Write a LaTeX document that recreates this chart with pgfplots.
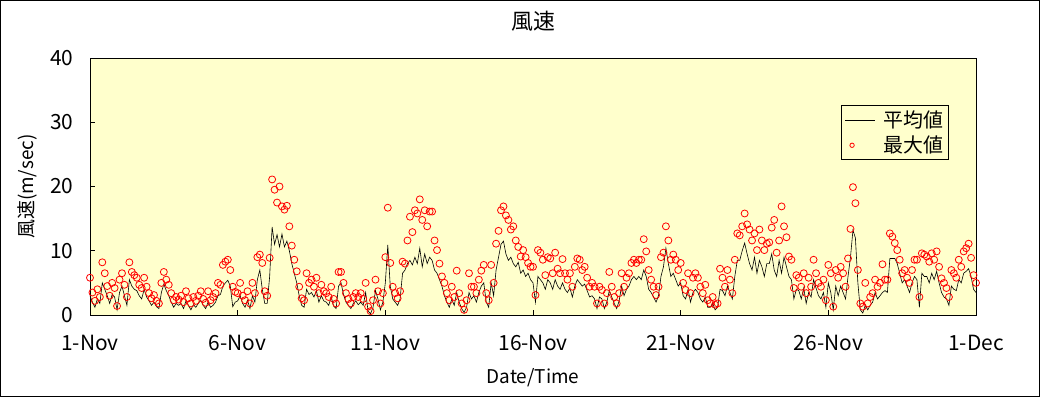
\documentclass[border=0pt]{standalone}
\usepackage{pgfplots}
\pgfplotsset{compat=1.18}
\usepackage{pgfplotstable}
\usepackage{fontspec}
\setmainfont{Noto Sans CJK JP}
\definecolor{bgy}{HTML}{FFFFCC}
\newcommand\tkfont{\fontsize{21}{24}\selectfont}
\pgfplotstableread[row sep=\\]{
m M\\
3.0 5.8\\ 2.0 3.5\\ 1.2 2.2\\ 2.5 4.0\\ 1.8 2.8\\ 5.0 8.2\\ 4.0 6.5\\ 3.0 4.5\\ 1.8 3.0\\ 3.2 5.0\\ 2.8 4.2\\ 0.8 1.4\\
3.5 5.5\\ 4.5 6.5\\ 3.0 4.7\\ 1.5 2.8\\ 5.5 8.2\\ 4.5 6.7\\ 4.0 6.2\\ 3.8 5.8\\ 3.0 4.7\\ 2.5 4.2\\ 4.0 5.8\\ 2.8 4.4\\
2.2 3.4\\ 1.5 2.6\\ 2.0 3.1\\ 1.3 2.2\\ 1.0 1.8\\ 3.5 5.0\\ 4.8 6.7\\ 3.8 5.5\\ 3.0 4.7\\ 2.0 3.4\\ 1.2 2.3\\ 1.8 2.8\\
1.5 2.4\\ 1.8 3.0\\ 1.0 2.0\\ 2.2 3.7\\ 1.5 2.6\\ 0.8 1.8\\ 1.6 2.8\\ 1.2 2.2\\ 1.8 3.0\\ 2.3 3.7\\ 1.5 2.5\\ 1.0 1.9\\
2.0 3.7\\ 1.2 2.3\\ 1.5 2.8\\ 2.0 3.4\\ 3.0 5.0\\ 3.2 4.7\\ 4.5 7.8\\ 5.0 8.3\\ 5.4 8.6\\ 4.5 7.0\\ 1.3 4.4\\ 2.0 3.6\\
2.2 3.4\\ 3.0 5.0\\ 1.8 3.0\\ 1.2 2.3\\ 2.3 3.7\\ 1.0 1.8\\ 3.0 5.0\\ 2.0 3.4\\ 5.5 9.0\\ 7.0 9.4\\ 4.0 8.1\\ 1.8 3.7\\
1.8 3.0\\ 6.0 8.9\\ 13.7 21.1\\ 11.0 19.5\\ 12.5 17.5\\ 10.6 20.0\\ 12.6 16.9\\ 10.6 16.4\\ 11.5 17.0\\ 10.0 13.8\\ 8.0 10.8\\ 6.5 8.6\\
5.0 6.8\\ 3.0 4.4\\ 1.5 2.6\\ 1.2 2.3\\ 4.0 6.5\\ 3.2 5.0\\ 3.5 5.5\\ 2.8 4.4\\ 3.8 5.8\\ 2.0 3.4\\ 3.0 4.7\\ 2.2 3.7\\
2.0 3.4\\ 1.5 2.8\\ 2.8 4.4\\ 1.4 2.5\\ 1.0 1.8\\ 4.5 6.7\\ 5.0 6.7\\ 3.2 5.0\\ 2.0 3.4\\ 1.5 2.5\\ 1.0 1.8\\ 1.8 2.8\\
2.2 3.4\\ 1.6 2.8\\ 2.0 3.4\\ 1.5 2.5\\ 3.5 5.0\\ 0.6 1.3\\ 0.2 0.6\\ 1.2 2.3\\ 3.8 5.5\\ 2.5 3.7\\ 0.8 1.8\\ 2.0 3.4\\
5.0 9.0\\ 10.9 16.7\\ 4.5 8.1\\ 2.5 4.4\\ 2.0 3.4\\ 1.5 2.6\\ 2.5 3.7\\ 6.5 8.3\\ 7.0 8.0\\ 8.0 11.6\\ 8.5 15.3\\ 7.8 12.9\\
9.0 16.3\\ 8.0 15.8\\ 10.4 18.0\\ 7.5 14.8\\ 9.5 16.3\\ 8.0 13.8\\ 9.0 16.1\\ 8.5 16.1\\ 7.0 11.6\\ 6.5 10.1\\ 5.5 8.0\\ 4.5 6.0\\
3.0 5.0\\ 2.0 3.4\\ 1.2 2.3\\ 2.5 4.4\\ 1.5 2.8\\ 3.5 6.9\\ 2.0 3.4\\ 1.0 1.8\\ 0.4 0.8\\ 1.2 2.3\\ 3.5 6.5\\ 2.5 4.4\\
3.0 4.4\\ 2.0 3.4\\ 3.5 5.5\\ 4.5 6.9\\ 5.0 7.8\\ 2.0 3.4\\ 1.2 2.3\\ 5.0 7.8\\ 3.0 5.0\\ 7.0 11.1\\ 9.0 13.1\\ 11.0 16.3\\
11.5 16.9\\ 9.5 15.5\\ 8.5 14.8\\ 9.0 13.3\\ 8.0 13.8\\ 7.5 11.6\\ 8.2 10.6\\ 6.5 9.1\\ 7.0 10.1\\ 6.0 9.0\\ 6.5 8.1\\ 5.5 7.5\\
5.0 7.5\\ 2.0 3.1\\ 6.0 10.1\\ 5.5 9.7\\ 5.0 8.6\\ 4.0 6.2\\ 5.5 9.0\\ 5.0 8.8\\ 4.0 6.5\\ 5.5 9.7\\ 4.5 7.2\\ 4.0 6.5\\
5.0 8.7\\ 4.0 6.5\\ 3.5 5.5\\ 4.2 6.5\\ 2.8 4.4\\ 4.5 7.5\\ 5.5 8.8\\ 5.0 8.6\\ 4.5 7.0\\ 4.8 7.5\\ 3.8 5.8\\ 2.8 4.4\\
3.0 5.0\\ 2.5 4.4\\ 1.0 1.8\\ 2.8 4.4\\ 2.5 3.9\\ 1.0 1.8\\ 2.0 3.4\\ 3.8 6.7\\ 2.8 4.4\\ 1.8 2.8\\ 1.0 1.8\\ 2.2 3.4\\
4.5 6.5\\ 3.0 4.4\\ 4.0 5.8\\ 4.5 6.5\\ 5.5 8.1\\ 6.0 8.6\\ 5.5 8.1\\ 6.0 8.6\\ 5.5 8.6\\ 7.0 11.8\\ 6.0 9.9\\ 4.0 7.0\\
3.5 5.5\\ 2.8 4.4\\ 2.0 3.1\\ 3.0 4.4\\ 6.0 9.0\\ 7.5 9.7\\ 10.4 13.8\\ 8.0 11.6\\ 6.0 8.6\\ 6.5 9.4\\ 5.5 8.6\\ 4.5 7.0\\
5.0 8.1\\ 3.0 5.0\\ 2.5 3.9\\ 4.0 6.5\\ 2.0 3.4\\ 3.5 5.8\\ 4.0 6.5\\ 3.5 5.8\\ 2.5 4.4\\ 2.0 3.4\\ 2.8 4.7\\ 1.2 2.3\\
1.2 1.8\\ 1.8 2.8\\ 0.8 1.6\\ 1.2 1.8\\ 4.0 7.2\\ 3.8 5.8\\ 3.0 4.4\\ 4.5 7.0\\ 3.5 5.5\\ 2.5 3.4\\ 6.0 8.6\\ 8.5 12.7\\
8.5 12.4\\ 10.0 13.8\\ 11.2 15.8\\ 9.5 14.1\\ 8.0 13.3\\ 7.0 11.6\\ 9.0 12.7\\ 6.5 10.1\\ 8.5 13.3\\ 7.5 11.6\\ 6.0 10.1\\ 8.0 11.1\\
8.0 11.3\\ 9.5 13.6\\ 7.0 14.8\\ 6.0 9.7\\ 8.5 11.6\\ 6.5 16.9\\ 9.0 13.8\\ 7.5 12.1\\ 6.0 9.1\\ 5.5 8.6\\ 2.5 4.2\\ 4.0 6.2\\
3.8 5.8\\ 2.5 4.4\\ 4.2 6.5\\ 1.8 3.4\\ 3.5 5.8\\ 2.8 4.4\\ 5.5 8.6\\ 4.2 6.5\\ 3.0 5.0\\ 2.5 4.4\\ 3.5 5.5\\ 1.2 2.3\\
5.0 7.8\\ 3.5 6.5\\ 0.8 1.3\\ 4.5 7.0\\ 3.0 5.8\\ 4.5 7.5\\ 3.5 6.5\\ 2.5 4.4\\ 6.0 8.8\\ 9.0 13.4\\ 13.2 19.9\\ 12.0 17.4\\
5.0 7.0\\ 0.8 1.8\\ 0.3 1.3\\ 1.5 5.0\\ 0.8 1.8\\ 1.5 2.8\\ 2.0 3.4\\ 3.5 5.5\\ 2.5 4.4\\ 3.0 5.0\\ 3.5 7.9\\ 3.8 5.5\\
3.5 5.5\\ 8.8 12.7\\ 8.8 12.2\\ 8.8 11.2\\ 8.0 10.1\\ 6.5 8.6\\ 5.0 6.5\\ 5.5 7.0\\ 4.5 5.8\\ 3.5 5.0\\ 5.0 7.0\\ 6.0 8.6\\
5.5 8.6\\ 1.2 2.8\\ 6.5 9.6\\ 6.0 9.4\\ 6.0 9.1\\ 5.0 8.3\\ 6.5 9.6\\ 5.5 8.6\\ 6.8 9.9\\ 5.0 7.5\\ 3.5 5.7\\ 2.8 5.0\\
2.5 4.2\\ 1.5 2.8\\ 4.5 7.0\\ 4.0 6.5\\ 3.8 5.8\\ 5.5 8.6\\ 5.0 7.5\\ 6.5 9.9\\ 6.8 10.4\\ 7.2 11.1\\ 6.0 8.9\\ 4.0 6.2\\
3.5 5.0\\
}\windtable
\begin{document}
\begin{tikzpicture}
\useasboundingbox (0,0) rectangle (1040bp,397bp);
\fill[white] (0,0) rectangle (1040bp,397bp);
\draw[black, line width=1bp] (0.5bp,0.5bp) rectangle (1039.5bp,396.5bp);
\begin{axis}[
  at={(90bp,82bp)}, anchor=south west,
  width=886bp, height=257bp, scale only axis,
  xmin=0, xmax=30, ymin=0, ymax=40,
  xtick={0,5,...,30},
  xticklabels={1-Nov,6-Nov,11-Nov,16-Nov,21-Nov,26-Nov,1-Dec},
  ytick={0,10,20,30,40},
  tick align=inside, tick pos=left, major tick length=5bp,
  axis line style={line width=1bp},
  tick style={black, line width=1bp},
  axis background/.style={fill=bgy},
  clip=false,
  ticklabel style={font=\tkfont},
  /pgf/number format/assume math mode=true,
  yticklabel style={xshift=-13bp},
  xticklabel style={yshift=-17bp},
  title={風速},
  title style={at={(axis description cs:0.5,1.1206)}, anchor=center, font=\fontsize{22}{26}\selectfont},
  xlabel={Date/Time},
  xlabel style={at={(axis description cs:0.5,-0.245)}, anchor=center, font=\fontsize{19}{22}\selectfont},
  ylabel={風速(m/sec)},
  ylabel style={at={(axis description cs:-0.0711,0.5)}, anchor=center, font=\fontsize{19}{22}\selectfont},
  legend style={at={(axis description cs:0.969,0.817)}, anchor=north east, draw=black, fill=bgy,
     font=\fontsize{20}{24}\selectfont, line width=0.8bp, inner xsep=3bp, inner ysep=2bp,
     column sep=6bp, nodes={inner ysep=3.5bp}},
  legend cell align=left,
]
\addplot[black, line width=0.6bp, mark=none,
  legend image code/.code={\draw[black,line width=0.6bp] (0bp,0bp)--(30bp,0bp);}]
  table[x expr=\coordindex/12, y=m] {\windtable};
\addlegendentry{平均値\hspace{18bp}}
\addplot[only marks, mark=o, mark size=3.5bp, red, line width=0.8bp,
  legend image code/.code={\path[draw=none] (0bp,0bp)--(30bp,0bp); \draw[red,line width=0.8bp] (7bp,0bp) circle (2.2bp);}]
  table[x expr=\coordindex/12, y=M] {\windtable};
\addlegendentry{最大値\hspace{18bp}}
\end{axis}
\end{tikzpicture}
\end{document}
